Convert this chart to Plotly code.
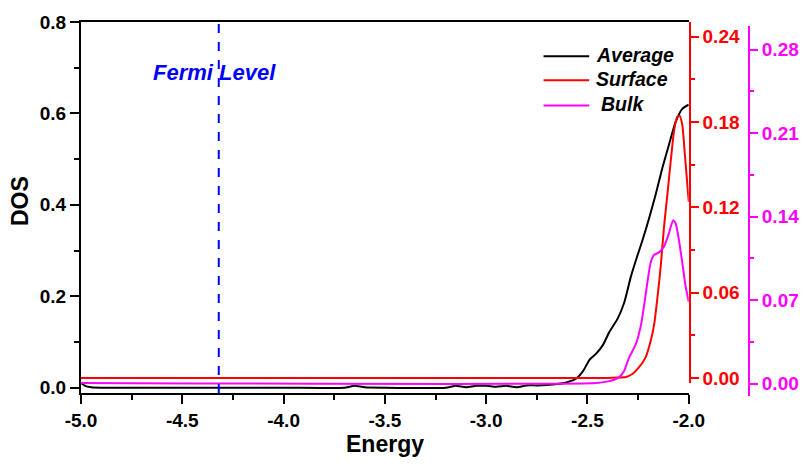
import plotly.graph_objects as go

# ---------------- data ----------------
energy_avg = [-5.00, -4.98, -4.95, -4.90, -4.50, -4.00, -3.70, -3.65, -3.60, -3.50,
              -3.20, -3.15, -3.10, -3.05, -3.00, -2.95, -2.90, -2.85, -2.80, -2.75,
              -2.70, -2.65, -2.60, -2.555, -2.522, -2.490, -2.456, -2.424, -2.392,
              -2.351, -2.318, -2.285, -2.260, -2.228, -2.196, -2.163, -2.130, -2.098,
              -2.065, -2.032, -2.000]
dos_avg = [0.010, 0.004, 0.001, 0.0, 0.0, 0.0, 0.0, 0.004, 0.001, 0.0,
           0.0, 0.004, 0.001, 0.004, 0.004, 0.002, 0.004, 0.001, 0.005, 0.005,
           0.006, 0.008, 0.012, 0.020, 0.036, 0.061, 0.075, 0.093, 0.122,
           0.151, 0.187, 0.244, 0.280, 0.323, 0.370, 0.423, 0.481, 0.531,
           0.581, 0.610, 0.619]

energy_surf = [-5.00, -2.40, -2.35, -2.31, -2.277, -2.245, -2.213, -2.188, -2.171,
               -2.155, -2.138, -2.122, -2.105, -2.089, -2.073, -2.057, -2.045,
               -2.032, -2.019, -2.000]
dos_surf = [0.0, 0.0, 0.0003, 0.0007, 0.003, 0.0076, 0.0145, 0.026, 0.0375,
            0.056, 0.079, 0.1066, 0.1296, 0.1525, 0.1733, 0.1836, 0.1843,
            0.178, 0.157, 0.124]

energy_bulk = [-5.00, -2.457, -2.392, -2.343, -2.318, -2.294, -2.261, -2.236, -2.220,
               -2.204, -2.188, -2.171, -2.147, -2.122, -2.098, -2.077, -2.065,
               -2.049, -2.032, -2.016, -2.000]
dos_bulk = [0.0005, 0.0005, 0.002, 0.0054, 0.011, 0.022, 0.033, 0.049, 0.066,
            0.085, 0.1015, 0.108, 0.110, 0.115, 0.126, 0.137, 0.1345,
            0.121, 0.1015, 0.082, 0.0686]

fermi_level = -4.32

x_ticks = [-5.0, -4.5, -4.0, -3.5, -3.0, -2.5, -2.0]
x_ticktext = ["-5.0", "-4.5", "-4.0", "-3.5", "-3.0", "-2.5", "-2.0"]
left_ticks = [0.0, 0.2, 0.4, 0.6, 0.8]
red_ticks = [0.00, 0.06, 0.12, 0.18, 0.24]
mag_ticks = [0.00, 0.07, 0.14, 0.21, 0.28]

series_names = ["Average", "Surface", "Bulk"]
series_colors = ["#000000", "#ff0000", "#ff00ff"]

# ---------------- figure ----------------
FONT = "Liberation Sans, Arial, sans-serif"
W, H = 811, 466
ML, MR, MT, MB = 81, 57, 15, 70
PW = W - ML - MR
PH = H - MT - MB

def px_x(p):
    return (p - ML) / PW

def px_y(p):
    return (H - MB - p) / PH

fig = go.Figure()
fig.add_trace(go.Scatter(x=energy_avg, y=dos_avg, mode="lines", name=series_names[0],
                         line=dict(color=series_colors[0], width=2, shape="spline", smoothing=0.6),
                         xaxis="x", yaxis="y", showlegend=False))
fig.add_trace(go.Scatter(x=energy_surf, y=dos_surf, mode="lines", name=series_names[1],
                         line=dict(color=series_colors[1], width=2, shape="spline", smoothing=0.6),
                         xaxis="x", yaxis="y2", showlegend=False))
fig.add_trace(go.Scatter(x=energy_bulk, y=dos_bulk, mode="lines", name=series_names[2],
                         line=dict(color=series_colors[2], width=2, shape="spline", smoothing=0.6),
                         xaxis="x", yaxis="y3", showlegend=False))

TS = 19
tick_font_black = dict(family=FONT, size=TS, color="black", weight="bold")

xdom_end = px_x(693.3)
fig.update_layout(
    width=W, height=H,
    margin=dict(l=ML, r=MR, t=MT, b=MB, pad=0),
    paper_bgcolor="white", plot_bgcolor="rgba(0,0,0,0)",
    showlegend=False,
    xaxis=dict(domain=[0, xdom_end], range=[-5, -2], anchor="y",
               tickvals=x_ticks, ticktext=x_ticktext,
               showline=True, linecolor="black", linewidth=2, mirror=True,
               ticks="outside", ticklen=9, tickwidth=2, tickcolor="black",
               minor=dict(dtick=0.25, ticks="outside", ticklen=5, tickwidth=2, tickcolor="black"),
               showgrid=False, zeroline=False, tickfont=tick_font_black),
    yaxis=dict(domain=[px_y(393), 1], range=[-0.0118, 0.8], anchor="x",
               tickvals=left_ticks, tickformat=".1f",
               showline=True, linecolor="black", linewidth=2,
               ticks="outside", ticklen=9, tickwidth=2, tickcolor="black",
               minor=dict(dtick=0.1, ticks="outside", ticklen=5, tickwidth=2, tickcolor="black"),
               showgrid=False, zeroline=False, tickfont=tick_font_black),
    yaxis2=dict(domain=[px_y(383), 1], range=[-0.00366, 0.25035], anchor="x", side="right",
                tickvals=red_ticks, tickformat=".2f",
                showline=True, linecolor="#ff0000", linewidth=2,
                ticks="outside", ticklen=8, tickwidth=2, tickcolor="#ff0000",
                minor=dict(dtick=0.03, ticks="outside", ticklen=4, tickwidth=2, tickcolor="#ff0000"),
                showgrid=False, zeroline=False,
                tickfont=dict(family=FONT, size=TS, color="#ff0000", weight="bold")),
    yaxis3=dict(domain=[0, px_y(19.3)], range=[-0.01046, 0.29976], anchor="free", position=1.0,
                side="right",
                tickvals=mag_ticks, tickformat=".2f",
                showline=True, linecolor="#ff00ff", linewidth=2,
                ticks="outside", ticklen=8, tickwidth=2, tickcolor="#ff00ff",
                minor=dict(dtick=0.035, ticks="outside", ticklen=4, tickwidth=2, tickcolor="#ff00ff"),
                showgrid=False, zeroline=False,
                tickfont=dict(family=FONT, size=TS, color="#ff00ff", weight="bold")),
)

# Fermi level dashed line
fig.add_shape(type="line", xref="x", yref="y domain", x0=fermi_level, x1=fermi_level,
              y0=0, y1=1, line=dict(color="#0000ff", width=2, dash="9px,9px"))

fig.add_annotation(x=px_x(215), y=px_y(66), xref="paper", yref="paper", text="Fermi Level",
                   showarrow=False, xanchor="center", yanchor="middle",
                   font=dict(family=FONT, size=22, color="#0000ff", weight="bold", style="italic"))

# axis titles
fig.add_annotation(x=px_x(19), y=px_y(197), xref="paper", yref="paper", text="DOS",
                   showarrow=False, textangle=-90, xanchor="center", yanchor="middle",
                   font=dict(family=FONT, size=23, color="black", weight="bold"))
fig.add_annotation(x=px_x(387.5), y=px_y(445), xref="paper", yref="paper", text="Energy",
                   showarrow=False, xanchor="center", yanchor="middle",
                   font=dict(family=FONT, size=23, color="black", weight="bold"))

# legend (manual)
leg_rows = [50, 74.3, 100]
leg_text_x = [598, 598, 603]
for name, color, ry, tx in zip(series_names, series_colors, leg_rows, leg_text_x):
    fig.add_shape(type="line", xref="paper", yref="paper",
                  x0=px_x(547), x1=px_x(593), y0=px_y(ry), y1=px_y(ry),
                  line=dict(color=color, width=2))
    fig.add_annotation(x=px_x(tx), y=px_y(ry - 1.5), xref="paper", yref="paper", text=name,
                       showarrow=False, xanchor="left", yanchor="middle",
                       font=dict(family=FONT, size=19.5, color="black", weight="bold", style="italic"))

fig.write_html("out.html")
